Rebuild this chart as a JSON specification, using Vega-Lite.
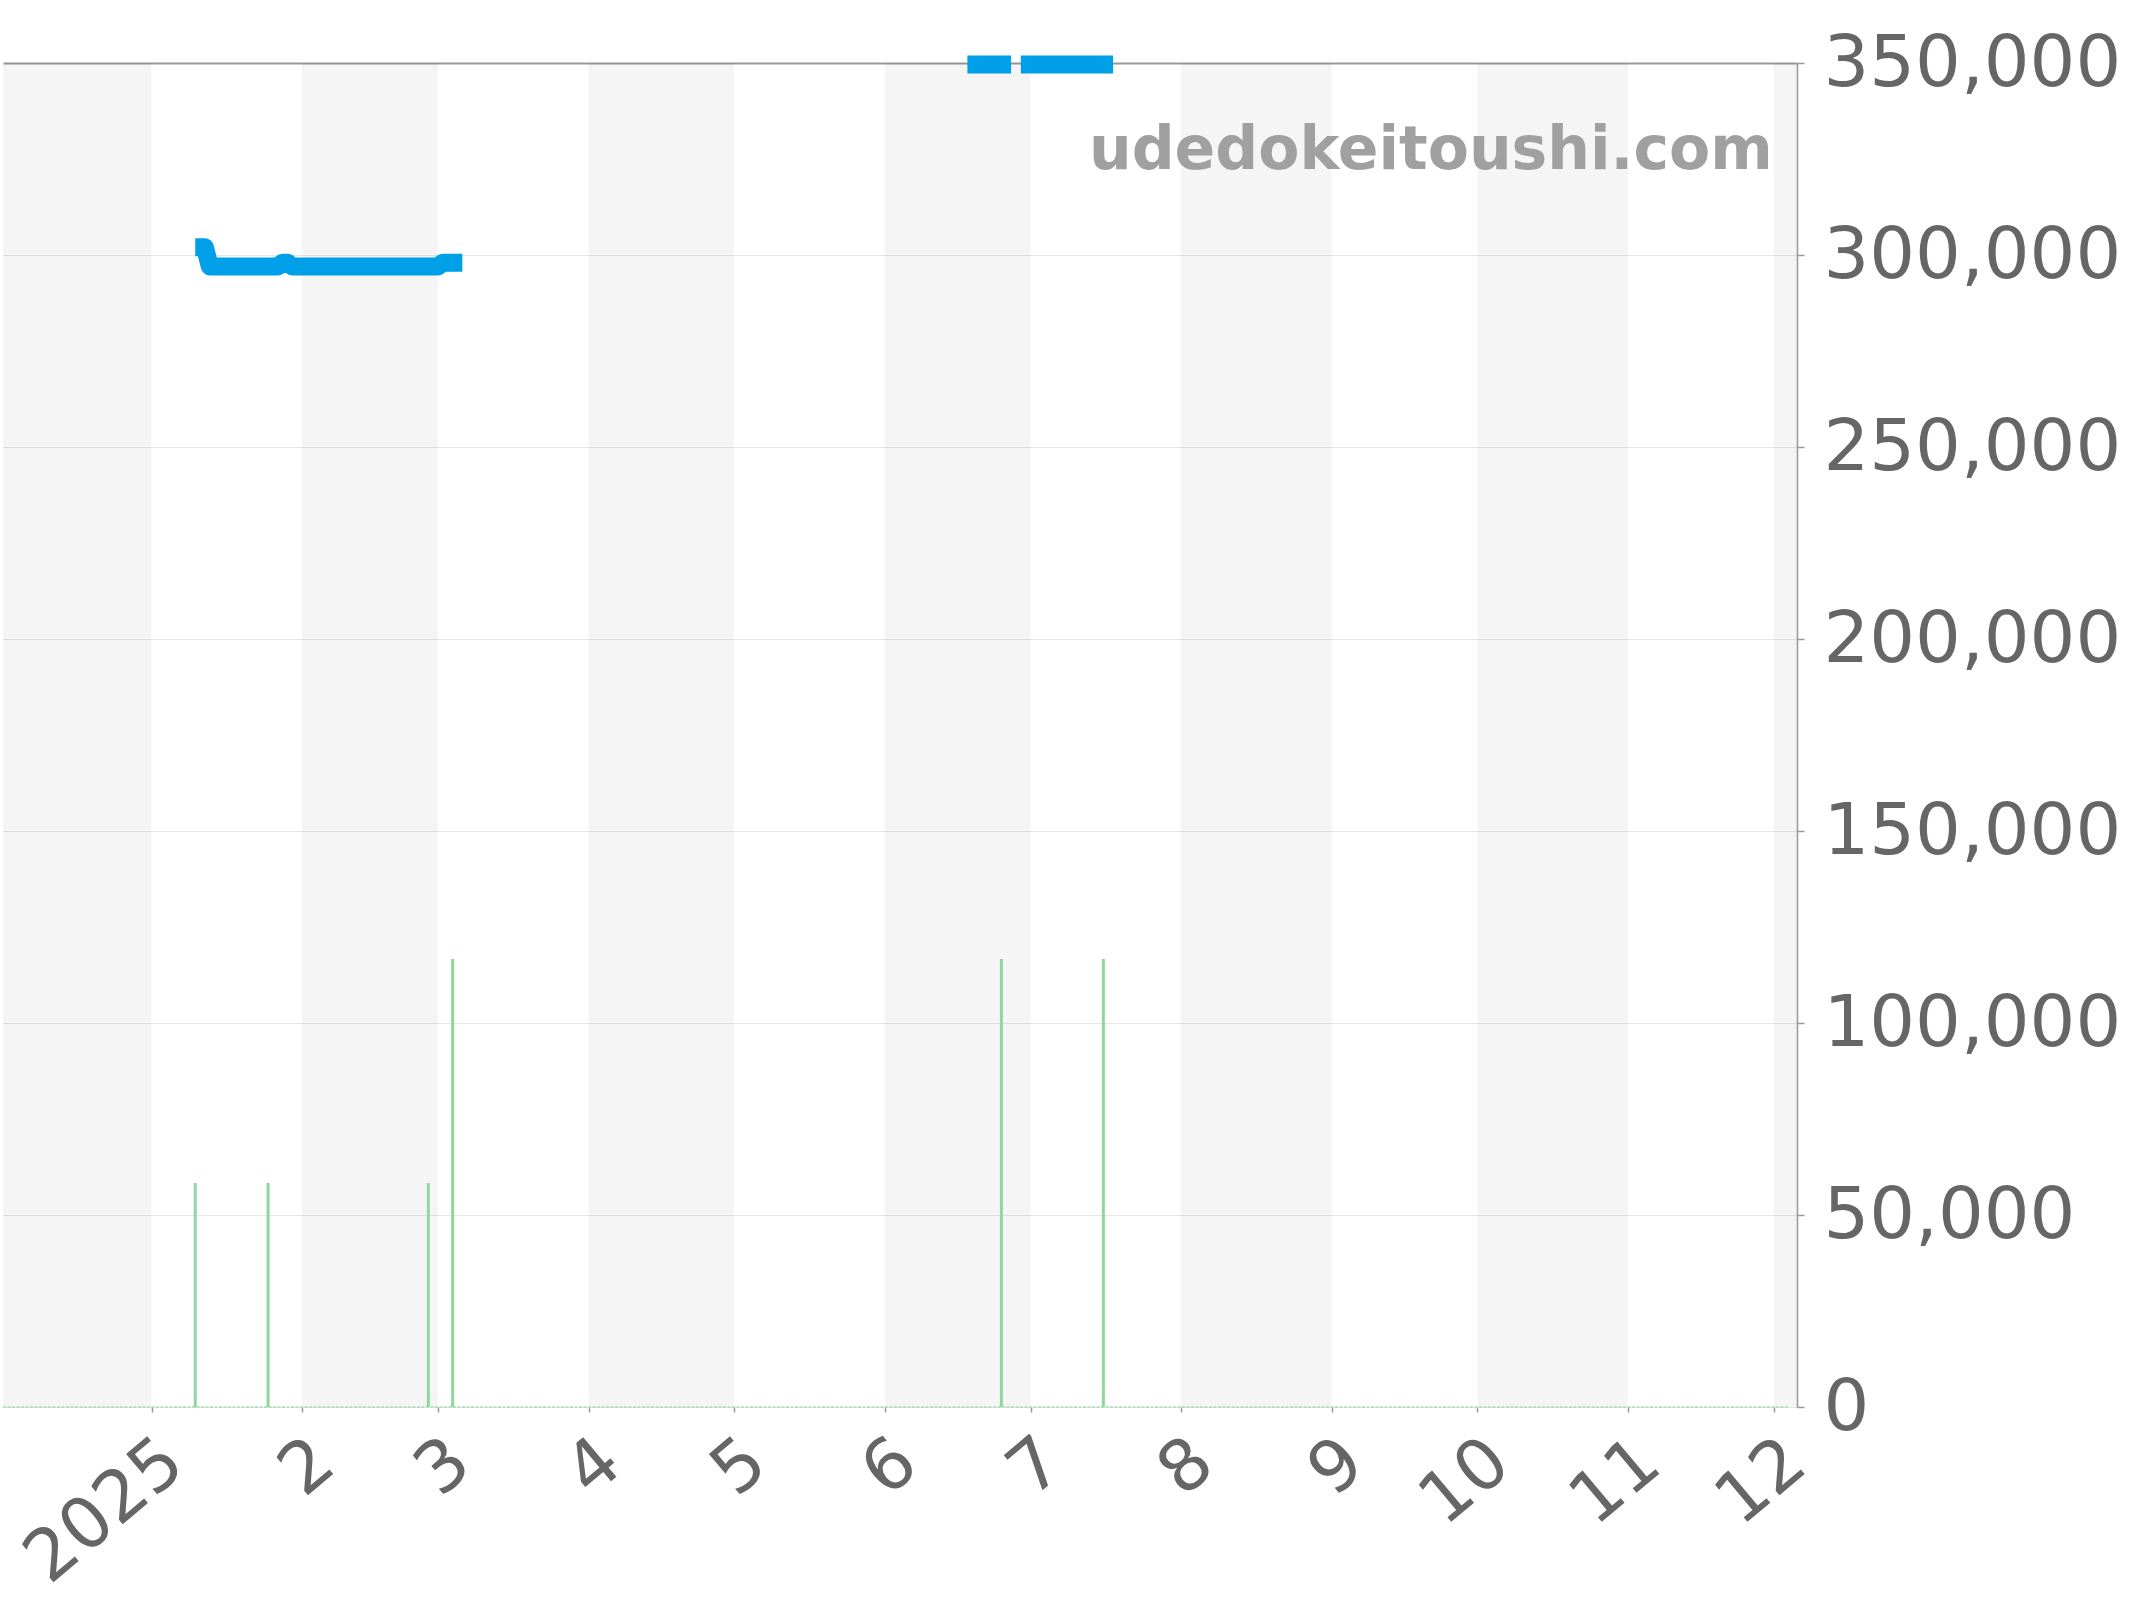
{
  "$schema": "https://vega.github.io/schema/vega-lite/v6.json",
  "width": 1794,
  "height": 1344,
  "autosize": {"type": "none"},
  "padding": {"left": 3, "top": 63, "right": 347, "bottom": 193},
  "background": "white",
  "config": {
    "view": {"stroke": null},
    "font": "DejaVu Sans",
    "axisX": {
      "tickCount": {"interval": "month", "step": 1},
      "labelExpr": "month(datum.value) == 0 ? timeFormat(datum.value, '%Y') : timeFormat(datum.value, '%-m')",
      "labelAngle": -40,
      "labelFontSize": 71,
      "labelColor": "#666666",
      "labelFont": "DejaVu Sans",
      "labelOverlap": false,
      "labelFlush": false,
      "labelPadding": 14,
      "labelLimit": 400,
      "domain": false,
      "grid": false,
      "tickColor": "#999999",
      "tickSize": 5,
      "tickWidth": 1.5
    }
  },
  "datasets": {
    "bands": [
      {"start": "2024-12-01T00:00:00", "end": "2025-01-01T00:00:00"},
      {"start": "2025-02-01T00:00:00", "end": "2025-03-01T00:00:00"},
      {"start": "2025-04-01T00:00:00", "end": "2025-05-01T00:00:00"},
      {"start": "2025-06-01T00:00:00", "end": "2025-07-01T00:00:00"},
      {"start": "2025-08-01T00:00:00", "end": "2025-09-01T00:00:00"},
      {"start": "2025-10-01T00:00:00", "end": "2025-11-01T00:00:00"},
      {"start": "2025-12-01T00:00:00", "end": "2026-01-01T00:00:00"}
    ],
    "price": [
      {"date": "2025-01-10T00:00:00", "price": 302000, "seg": "a"},
      {"date": "2025-01-11T00:00:00", "price": 302000, "seg": "a"},
      {"date": "2025-01-12T00:00:00", "price": 302000, "seg": "a"},
      {"date": "2025-01-13T00:00:00", "price": 297000, "seg": "a"},
      {"date": "2025-01-14T00:00:00", "price": 297000, "seg": "a"},
      {"date": "2025-01-15T00:00:00", "price": 297000, "seg": "a"},
      {"date": "2025-01-16T00:00:00", "price": 297000, "seg": "a"},
      {"date": "2025-01-17T00:00:00", "price": 297000, "seg": "a"},
      {"date": "2025-01-18T00:00:00", "price": 297000, "seg": "a"},
      {"date": "2025-01-19T00:00:00", "price": 297000, "seg": "a"},
      {"date": "2025-01-20T00:00:00", "price": 297000, "seg": "a"},
      {"date": "2025-01-21T00:00:00", "price": 297000, "seg": "a"},
      {"date": "2025-01-22T00:00:00", "price": 297000, "seg": "a"},
      {"date": "2025-01-23T00:00:00", "price": 297000, "seg": "a"},
      {"date": "2025-01-24T00:00:00", "price": 297000, "seg": "a"},
      {"date": "2025-01-25T00:00:00", "price": 297000, "seg": "a"},
      {"date": "2025-01-26T00:00:00", "price": 297000, "seg": "a"},
      {"date": "2025-01-27T00:00:00", "price": 297000, "seg": "a"},
      {"date": "2025-01-28T00:00:00", "price": 298000, "seg": "a"},
      {"date": "2025-01-29T00:00:00", "price": 298000, "seg": "a"},
      {"date": "2025-01-30T00:00:00", "price": 297000, "seg": "a"},
      {"date": "2025-01-31T00:00:00", "price": 297000, "seg": "a"},
      {"date": "2025-02-01T00:00:00", "price": 297000, "seg": "a"},
      {"date": "2025-02-02T00:00:00", "price": 297000, "seg": "a"},
      {"date": "2025-02-03T00:00:00", "price": 297000, "seg": "a"},
      {"date": "2025-02-04T00:00:00", "price": 297000, "seg": "a"},
      {"date": "2025-02-05T00:00:00", "price": 297000, "seg": "a"},
      {"date": "2025-02-06T00:00:00", "price": 297000, "seg": "a"},
      {"date": "2025-02-07T00:00:00", "price": 297000, "seg": "a"},
      {"date": "2025-02-08T00:00:00", "price": 297000, "seg": "a"},
      {"date": "2025-02-09T00:00:00", "price": 297000, "seg": "a"},
      {"date": "2025-02-10T00:00:00", "price": 297000, "seg": "a"},
      {"date": "2025-02-11T00:00:00", "price": 297000, "seg": "a"},
      {"date": "2025-02-12T00:00:00", "price": 297000, "seg": "a"},
      {"date": "2025-02-13T00:00:00", "price": 297000, "seg": "a"},
      {"date": "2025-02-14T00:00:00", "price": 297000, "seg": "a"},
      {"date": "2025-02-15T00:00:00", "price": 297000, "seg": "a"},
      {"date": "2025-02-16T00:00:00", "price": 297000, "seg": "a"},
      {"date": "2025-02-17T00:00:00", "price": 297000, "seg": "a"},
      {"date": "2025-02-18T00:00:00", "price": 297000, "seg": "a"},
      {"date": "2025-02-19T00:00:00", "price": 297000, "seg": "a"},
      {"date": "2025-02-20T00:00:00", "price": 297000, "seg": "a"},
      {"date": "2025-02-21T00:00:00", "price": 297000, "seg": "a"},
      {"date": "2025-02-22T00:00:00", "price": 297000, "seg": "a"},
      {"date": "2025-02-23T00:00:00", "price": 297000, "seg": "a"},
      {"date": "2025-02-24T00:00:00", "price": 297000, "seg": "a"},
      {"date": "2025-02-25T00:00:00", "price": 297000, "seg": "a"},
      {"date": "2025-02-26T00:00:00", "price": 297000, "seg": "a"},
      {"date": "2025-02-27T00:00:00", "price": 297000, "seg": "a"},
      {"date": "2025-02-28T00:00:00", "price": 297000, "seg": "a"},
      {"date": "2025-03-01T00:00:00", "price": 297000, "seg": "a"},
      {"date": "2025-03-02T00:00:00", "price": 298000, "seg": "a"},
      {"date": "2025-03-03T00:00:00", "price": 298000, "seg": "a"},
      {"date": "2025-03-04T00:00:00", "price": 298000, "seg": "a"},
      {"date": "2025-03-05T00:00:00", "price": 298000, "seg": "a"},
      {"date": "2025-03-06T00:00:00", "price": 298000, "seg": "a"},
      {"date": "2025-06-18T00:00:00", "price": 349600, "seg": "b"},
      {"date": "2025-06-19T00:00:00", "price": 349600, "seg": "b"},
      {"date": "2025-06-20T00:00:00", "price": 349600, "seg": "b"},
      {"date": "2025-06-21T00:00:00", "price": 349600, "seg": "b"},
      {"date": "2025-06-22T00:00:00", "price": 349600, "seg": "b"},
      {"date": "2025-06-23T00:00:00", "price": 349600, "seg": "b"},
      {"date": "2025-06-24T00:00:00", "price": 349600, "seg": "b"},
      {"date": "2025-06-25T00:00:00", "price": 349600, "seg": "b"},
      {"date": "2025-06-26T00:00:00", "price": 349600, "seg": "b"},
      {"date": "2025-06-27T00:00:00", "price": 349600, "seg": "b"},
      {"date": "2025-06-29T00:00:00", "price": 349600, "seg": "c"},
      {"date": "2025-06-30T00:00:00", "price": 349600, "seg": "c"},
      {"date": "2025-07-01T00:00:00", "price": 349600, "seg": "c"},
      {"date": "2025-07-02T00:00:00", "price": 349600, "seg": "c"},
      {"date": "2025-07-03T00:00:00", "price": 349600, "seg": "c"},
      {"date": "2025-07-04T00:00:00", "price": 349600, "seg": "c"},
      {"date": "2025-07-05T00:00:00", "price": 349600, "seg": "c"},
      {"date": "2025-07-06T00:00:00", "price": 349600, "seg": "c"},
      {"date": "2025-07-07T00:00:00", "price": 349600, "seg": "c"},
      {"date": "2025-07-08T00:00:00", "price": 349600, "seg": "c"},
      {"date": "2025-07-09T00:00:00", "price": 349600, "seg": "c"},
      {"date": "2025-07-10T00:00:00", "price": 349600, "seg": "c"},
      {"date": "2025-07-11T00:00:00", "price": 349600, "seg": "c"},
      {"date": "2025-07-12T00:00:00", "price": 349600, "seg": "c"},
      {"date": "2025-07-13T00:00:00", "price": 349600, "seg": "c"},
      {"date": "2025-07-14T00:00:00", "price": 349600, "seg": "c"},
      {"date": "2025-07-15T00:00:00", "price": 349600, "seg": "c"},
      {"date": "2025-07-16T00:00:00", "price": 349600, "seg": "c"},
      {"date": "2025-07-17T00:00:00", "price": 349600, "seg": "c"},
      {"date": "2025-07-18T00:00:00", "price": 349600, "seg": "c"}
    ],
    "volume": [
      {"date": "2025-01-10T00:00:00", "count": 1},
      {"date": "2025-01-25T00:00:00", "count": 1},
      {"date": "2025-02-27T00:00:00", "count": 1},
      {"date": "2025-03-04T00:00:00", "count": 2},
      {"date": "2025-06-25T00:00:00", "count": 2},
      {"date": "2025-07-16T00:00:00", "count": 2}
    ],
    "site": [
      {"label": "udedokeitoushi.com"}
    ]
  },
  "layer": [
    {
      "data": {"name": "bands"},
      "mark": {"type": "rect", "fill": "#000000", "fillOpacity": 0.04, "clip": true},
      "encoding": {
        "x": {
          "field": "start", "type": "temporal", "title": null,
          "scale": {"domain": [{"year": 2024, "month": 12, "date": 1, "hours": 10}, {"year": 2025, "month": 12, "date": 5, "hours": 20}]}
        },
        "x2": {"field": "end"}
      }
    },
    {
      "data": {"name": "site"},
      "mark": {"type": "rule", "color": "#a8dcb4", "strokeWidth": 1.5, "strokeDash": [3, 1.5]},
      "encoding": {
        "x": {"datum": {"year": 2024, "month": 12, "date": 1, "hours": 10}, "type": "temporal", "title": null},
        "x2": {"datum": {"year": 2025, "month": 12, "date": 4}},
        "y": {"datum": 0, "type": "quantitative", "scale": {"domain": [0, 1]}, "axis": null}
      }
    },
    {
      "data": {"name": "volume"},
      "mark": {"type": "rule", "color": "#8fd69f", "strokeWidth": 3},
      "encoding": {
        "x": {"field": "date", "type": "temporal", "title": null},
        "y": {"field": "count", "type": "quantitative", "scale": {"domain": [0, 6]}, "axis": null},
        "y2": {"datum": 0}
      }
    },
    {
      "data": {"name": "price"},
      "mark": {"type": "line", "color": "#00a0e9", "strokeWidth": 18, "strokeJoin": "round", "strokeCap": "butt"},
      "encoding": {
        "x": {"field": "date", "type": "temporal", "title": null},
        "y": {
          "field": "price", "type": "quantitative", "title": null,
          "scale": {"domain": [0, 350000], "nice": false, "zero": true},
          "axis": {
            "orient": "right",
            "values": [0, 50000, 100000, 150000, 200000, 250000, 300000, 350000],
            "format": ",d",
            "labelFontSize": 72,
            "labelColor": "#666666",
            "labelFont": "DejaVu Sans",
            "labelPadding": 19,
            "labelLimit": 500,
            "labelFlush": false,
            "labelOverlap": false,
            "tickSize": 7,
            "tickColor": "#999999",
            "tickWidth": 1.5,
            "domainColor": "#999999",
            "domainWidth": 1.5,
            "grid": true,
            "gridColor": {"condition": {"test": "datum.value === 350000", "value": "#999999"}, "value": "#e6e6e6"},
            "gridWidth": {"condition": {"test": "datum.value === 350000", "value": 2}, "value": 1}
          }
        },
        "detail": {"field": "seg", "type": "nominal"}
      }
    },
    {
      "data": {"name": "site"},
      "mark": {"type": "text", "font": "DejaVu Sans", "fontWeight": "bold", "fontSize": 60, "fill": "#a0a0a0", "align": "right", "baseline": "alphabetic"},
      "encoding": {
        "text": {"field": "label", "type": "nominal"},
        "x": {"datum": {"year": 2025, "month": 11, "date": 30, "hours": 20}, "type": "temporal", "title": null},
        "y": {"datum": 322500, "type": "quantitative", "scale": {"domain": [0, 350000]}, "axis": null}
      }
    }
  ],
  "resolve": {"scale": {"y": "independent"}}
}
